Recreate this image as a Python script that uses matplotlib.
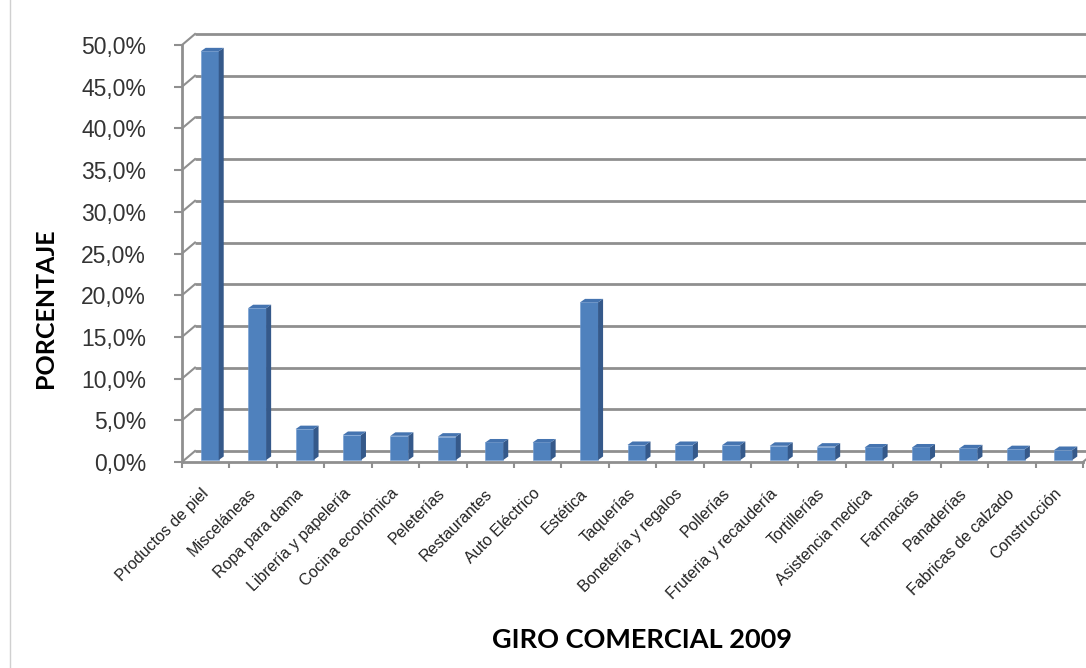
import matplotlib.pyplot as plt
from matplotlib.lines import Line2D
import numpy as np

# datos
categorias = ["Productos de piel", "Misceláneas", "Ropa para dama", "Librería y papelería",
              "Cocina económica", "Peleterías", "Restaurantes", "Auto Eléctrico", "Estética",
              "Taquerías", "Bonetería y regalos", "Pollerías", "Fruteria y recaudería",
              "Tortillerías", "Asistencia medica", "Farmacias", "Panaderías",
              "Fabricas de calzado", "Construcción"]
porcentajes = [49.0, 18.2, 3.7, 3.0, 2.9, 2.8, 2.1, 2.1, 18.9, 1.8, 1.8, 1.8, 1.7,
               1.6, 1.5, 1.5, 1.4, 1.3, 1.2]
y_ticks = [0, 5, 10, 15, 20, 25, 30, 35, 40, 45, 50]

W, H = 1086, 668
fig = plt.figure(figsize=(W / 100, H / 100), dpi=100)
ax_l, ax_r, ax_b, ax_t = 182, 1083, 462, 45
ax = fig.add_axes([ax_l / W, (H - ax_b) / H, (ax_r - ax_l) / W, (ax_b - ax_t) / H])
ax.set_xlim(-0.5, len(categorias) - 0.5)
ax.set_ylim(0, 50)

px_x = (ax_r - ax_l) / len(categorias)   # pixeles por unidad x
px_y = (ax_b - ax_t) / 50.0              # pixeles por unidad y

# profundidad de la pared del fondo
DX, DY = 13 / px_x, 11 / px_y
# barras: desplazamiento y profundidad
bx, by = 4 / px_x, 2 / px_y
ddx, ddy = 5 / px_x, 3.5 / px_y
bw = 18 / px_x

grid_c = '#8f8f8f'
x0, x1 = -0.5, len(categorias) - 0.5

# pared del fondo y pared lateral
for v in y_ticks:
    ax.plot([x0 + DX, x1 + DX], [v + DY, v + DY], color=grid_c, lw=2.0,
            clip_on=False, zorder=1, solid_capstyle='butt')
    ax.plot([x0, x0 + DX], [v, v + DY], color=grid_c, lw=1.5, clip_on=False, zorder=1)
# piso, lado derecho
ax.plot([x1, x1 + DX], [0, DY], color=grid_c, lw=1.5, clip_on=False, zorder=1)

# barras 3D
front_c, side_c, top_c = '#4f81bd', '#35598a', '#4574b0'
xs = np.arange(len(categorias))
ax.bar(xs + bx, porcentajes, width=bw, bottom=by, color=front_c, zorder=3,
       edgecolor='#6f9bd1', linewidth=0.4)
for x, v in zip(xs, porcentajes):
    xr = x + bx + bw / 2
    xl = x + bx - bw / 2
    top = v + by
    ax.fill([xr, xr + ddx, xr + ddx, xr], [by, by + ddy, top + ddy, top],
            color=side_c, zorder=3, lw=0)
    ax.fill([xl, xl + ddx, xr + ddx, xr], [top, top + ddy, top + ddy, top],
            color=top_c, zorder=3, lw=0)

# ejes
for s in ['top', 'right']:
    ax.spines[s].set_visible(False)
for s in ['left', 'bottom']:
    ax.spines[s].set_color(grid_c)
    ax.spines[s].set_linewidth(2.0)
    ax.spines[s].set_zorder(2)

ax.set_yticks(y_ticks)
ax.set_yticklabels([f"{v:.1f}%".replace('.', ',') for v in y_ticks],
                   fontfamily='Liberation Sans', fontsize=16.5, color='#333333')
ax.tick_params(axis='y', direction='out', length=6, width=1.5, color=grid_c, pad=20)

ax.set_xticks(np.arange(len(categorias) + 1) - 0.5)
ax.set_xticklabels([])
ax.tick_params(axis='x', which='major', direction='out', length=4, width=1.5, color=grid_c)
ax.set_xticks(xs, minor=True)
ax.set_xticklabels(categorias, minor=True, rotation=45, ha='right', va='center',
                   rotation_mode='anchor', fontfamily='Liberation Sans', fontsize=11.5,
                   color='#222222')
ax.tick_params(axis='x', which='minor', length=0, pad=21)

ax.set_facecolor('none')

fig.text(46 / W, 1 - 308 / H, 'PORCENTAJE', rotation=90, ha='center', va='center',
         fontfamily='Lato', fontweight='bold', fontsize=18)
fig.text(642 / W, 1 - 640 / H, 'GIRO COMERCIAL 2009', ha='center', va='center',
         fontfamily='Lato', fontweight='bold', fontsize=19.5)

# borde del area del grafico
fig.add_artist(Line2D([10 / W, 10 / W], [0, 1], color='#d0d0d0', lw=1))

fig.savefig('out.png', dpi=100)
